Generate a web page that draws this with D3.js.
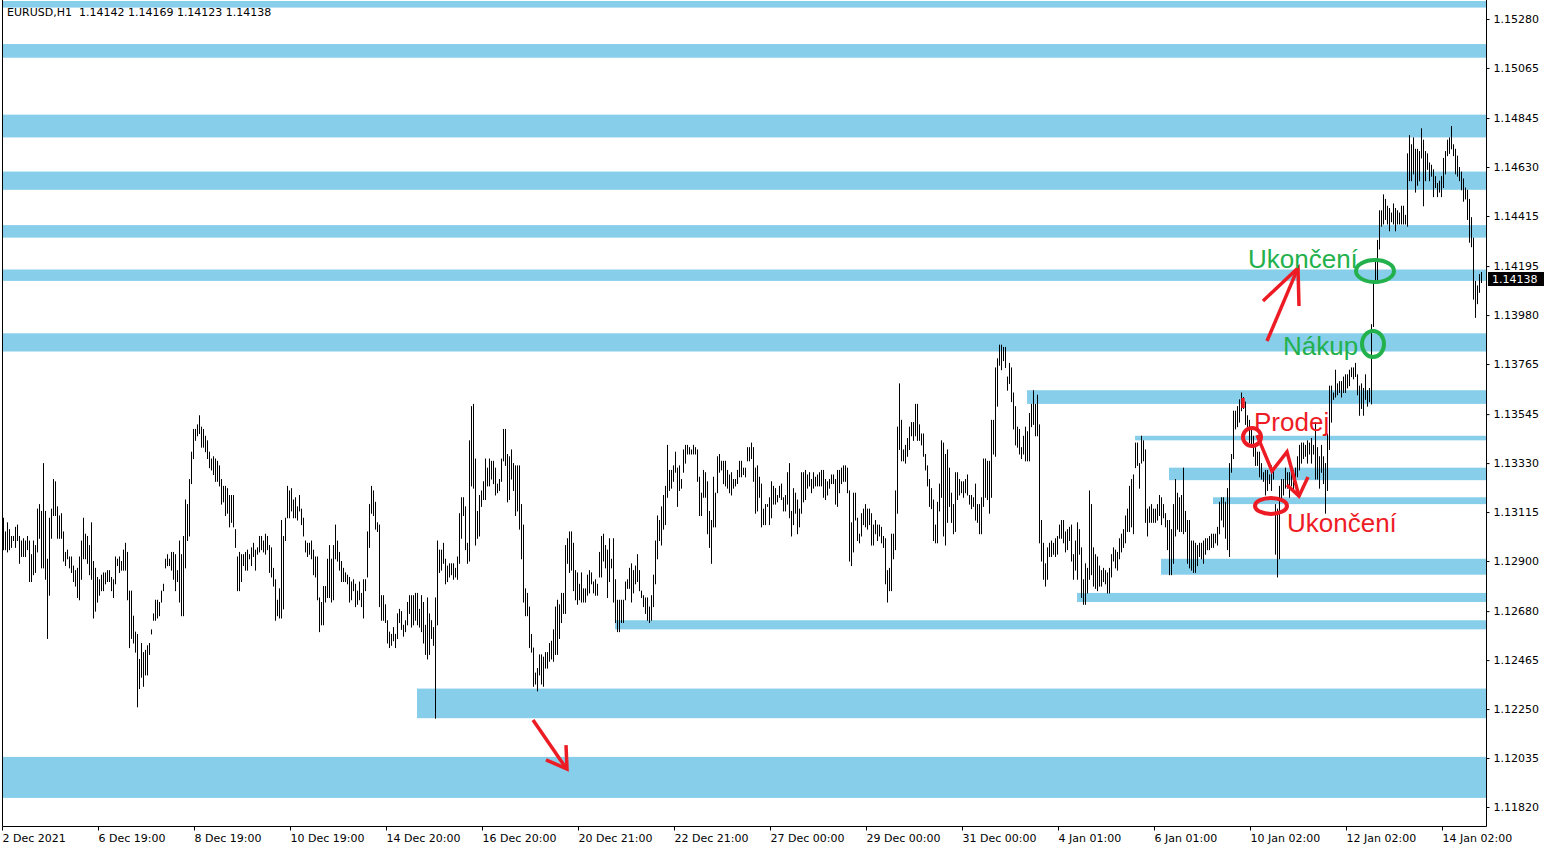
<!DOCTYPE html>
<html><head><meta charset="utf-8">
<script src="https://cdn.jsdelivr.net/npm/d3@7"></script>
<style>body{margin:0;background:#fff}svg{display:block}</style>
</head><body>
<svg id="c" width="1550" height="850"></svg>
<script>
// ---- bar data: [high, low] per H1 bar ----
const seg1 = [[1.1309,1.1295],[1.1303,1.1295],[1.1307,1.1294],[1.1304,1.1295],[1.1301,1.1296],[1.1301,1.1299],[1.1305,1.1296],[1.1306,1.1299],[1.1301,1.1289],[1.1299,1.1292],[1.1300,1.1292],[1.1299,1.1292],[1.1301,1.1295],[1.1299,1.1281],[1.1293,1.1281],[1.1299,1.1284],[1.1297,1.1285],[1.1313,1.1294],[1.1315,1.1300],[1.1312,1.1287],[1.1333,1.1287],[1.1312,1.1282],[1.1291,1.1256],
[1.1309,1.1275],[1.1313,1.1300],[1.1326,1.1310],[1.1325,1.1310],[1.1314,1.1300],[1.1310,1.1300],[1.1311,1.1300],[1.1303,1.1290],[1.1294,1.1288],[1.1295,1.1291],[1.1292,1.1287],[1.1292,1.1285],[1.1288,1.1281],[1.1286,1.1279],[1.1287,1.1274],[1.1292,1.1273],[1.1299,1.1282],[1.1309,1.1291],[1.1302,1.1291],[1.1301,1.1289],[1.1297,1.1284],[1.1307,1.1282],[1.1290,1.1265],[1.1287,1.1268],[1.1283,1.1272],[1.1282,1.1275],[1.1284,1.1277],[1.1285,1.1277],[1.1285,1.1280],[1.1286,1.1281],[1.1286,1.1281],[1.1283,1.1277],[1.1282,1.1274],[1.1292,1.1280],[1.1291,1.1288],[1.1292,1.1285],[1.1290,1.1286],[1.1295,1.1286],[1.1298,1.1286],[1.1294,1.1273],[1.1277,1.1252],[1.1277,1.1256],[1.1266,1.1254],[1.1259,1.1250],[1.1258,1.1226],[1.1247,1.1234],[1.1254,1.1239],[1.1250,1.1235],[1.1251,1.1240],[1.1253,1.1240],[1.1254,1.1249],[1.1260,1.1258],[1.1267,1.1264],[1.1273,1.1264],[1.1273,1.1265],[1.1272,1.1266],[1.1277,1.1272],[1.1280,1.1277],[1.1291,1.1287],[1.1293,1.1288],[1.1291,1.1288],[1.1294,1.1286],[1.1294,1.1282],[1.1293,1.1277],[1.1286,1.1281],[1.1299,1.1272],[1.1293,1.1266],[1.1301,1.1266],[1.1317,1.1287],[1.1315,1.1299],[1.1326,1.1301],[1.1338,1.1324],[1.1348,1.1335],[1.1348,1.1343],[1.1350,1.1345],[1.1354,1.1346],[1.1349,1.1340],[1.1348,1.1340],[1.1345,1.1338],[1.1343,1.1335],[1.1338,1.1331],[1.1335,1.1330],[1.1336,1.1328],[1.1335,1.1325],[1.1334,1.1325],[1.1332,1.1323],[1.1326,1.1315],[1.1323,1.1316],[1.1323,1.1310],[1.1322,1.1311],[1.1319,1.1305],[1.1319,1.1307],[1.1319,1.1305],[1.1304,1.1296],[1.1292,1.1277],[1.1294,1.1277],[1.1293,1.1281],[1.1293,1.1288],[1.1294,1.1286],[1.1295,1.1286],[1.1293,1.1291],[1.1296,1.1288],[1.1298,1.1292],[1.1295,1.1286],[1.1296,1.1293],[1.1301,1.1294],[1.1301,1.1295],[1.1299,1.1294],[1.1302,1.1293],[1.1301,1.1295],[1.1297,1.1285],[1.1296,1.1283],[1.1287,1.1279],[1.1282,1.1264],[1.1273,1.1266],[1.1278,1.1265],[1.1308,1.1265],[1.1301,1.1269],[1.1309,1.1299],[1.1323,1.1309],[1.1321,1.1309],[1.1322,1.1312],[1.1317,1.1309],[1.1318,1.1309],[1.1314,1.1308],[1.1319,1.1312],[1.1313,1.1306],[1.1309,1.1301],[1.1299,1.1294],[1.1298,1.1292],[1.1298,1.1293],[1.1299,1.1291],[1.1295,1.1284],[1.1292,1.1283],[1.1292,1.1273],[1.1274,1.1259],[1.1272,1.1262],[1.1279,1.1262],[1.1279,1.1272],[1.1291,1.1274],[1.1297,1.1274],[1.1291,1.1272],[1.1297,1.1273],[1.1306,1.1291],[1.1299,1.1290],[1.1294,1.1286],[1.1290,1.1281],[1.1287,1.1281],[1.1285,1.1281],[1.1284,1.1280],[1.1283,1.1272],[1.1281,1.1273],[1.1282,1.1277],[1.1280,1.1270],[1.1277,1.1271],[1.1281,1.1273],[1.1276,1.1270],[1.1282,1.1265],[1.1282,1.1277],[1.1303,1.1283],[1.1315,1.1296],[1.1323,1.1311],[1.1321,1.1310],[1.1316,1.1304],[1.1307,1.1303],[1.1306,1.1270]];
const seg2 = [[1.1275,1.1264],[1.1275,1.1264],[1.1271,1.1263],[1.1264,1.1254],[1.1259,1.1252],[1.1258,1.1253],[1.1261,1.1255],[1.1258,1.1252],[1.1267,1.1256],[1.1269,1.1263],[1.1268,1.1260],[1.1262,1.1257],[1.1264,1.1259],[1.1272,1.1262],[1.1275,1.1267],[1.1275,1.1261],[1.1275,1.1262],[1.1276,1.1264],[1.1276,1.1262],[1.1269,1.1261],[1.1275,1.1259],[1.1272,1.1254],[1.1262,1.1249],[1.1274,1.1247],[1.1267,1.1249],[1.1264,1.1256],[1.1261,1.1253],[1.1274,1.1221],[1.1299,1.1262],[1.1295,1.1285],[1.1295,1.1286],[1.1298,1.1289],[1.1291,1.1280],[1.1288,1.1281],[1.1289,1.1283],[1.1289,1.1284],[1.1289,1.1282],[1.1287,1.1283],[1.1292,1.1282],[1.1311,1.1289],[1.1318,1.1300],[1.1318,1.1310],[1.1314,1.1295],[1.1298,1.1289],[1.1343,1.1290],[1.1358,1.1323],[1.1359,1.1322],[1.1335,1.1297],[1.1312,1.1300],[1.1319,1.1301],[1.1321,1.1314],[1.1325,1.1317],[1.1335,1.1317],[1.1331,1.1323],[1.1335,1.1323],[1.1334,1.1326],[1.1334,1.1324],[1.1331,1.1319],[1.1324,1.1320],[1.1326,1.1321],[1.1335,1.1325],[1.1348,1.1334],[1.1348,1.1332],[1.1337,1.1316],[1.1336,1.1317],[1.1339,1.1326],[1.1333,1.1321],[1.1332,1.1310],[1.1332,1.1312],[1.1332,1.1304],[1.1315,1.1291],[1.1306,1.1272],[1.1278,1.1266],[1.1276,1.1266],[1.1270,1.1252],[1.1258,1.1250],[1.1252,1.1235],[1.1241,1.1236],[1.1243,1.1233],[1.1249,1.1240],[1.1249,1.1236],[1.1248,1.1235],[1.1250,1.1243],[1.1250,1.1243],[1.1254,1.1246],[1.1255,1.1247],[1.1260,1.1246],[1.1270,1.1249],[1.1273,1.1249],[1.1271,1.1256],[1.1276,1.1263],[1.1276,1.1267],[1.1297,1.1267],[1.1300,1.1289],[1.1303,1.1285],[1.1303,1.1286],[1.1298,1.1277],[1.1286,1.1273],[1.1285,1.1271],[1.1280,1.1273],[1.1285,1.1272],[1.1278,1.1272],[1.1278,1.1272],[1.1284,1.1275],[1.1286,1.1276],[1.1285,1.1280],[1.1281,1.1276],[1.1282,1.1275],[1.1280,1.1275],[1.1294,1.1283],[1.1301,1.1283],[1.1302,1.1290],[1.1297,1.1287],[1.1295,1.1274],[1.1300,1.1281],[1.1291,1.1287],[1.1300,1.1272],[1.1282,1.1263],[1.1273,1.1259],[1.1273,1.1259],[1.1273,1.1263],[1.1273,1.1263],[1.1281,1.1273],[1.1282,1.1278],[1.1287,1.1278],[1.1289,1.1272],[1.1286,1.1276],[1.1288,1.1280],[1.1293,1.1281],[1.1286,1.1277],[1.1277,1.1274],[1.1275,1.1270],[1.1274,1.1267],[1.1274,1.1264],[1.1270,1.1263],[1.1275,1.1264],[1.1284,1.1270],[1.1299,1.1280],[1.1310,1.1291],[1.1308,1.1299],[1.1314,1.1297],[1.1319,1.1304],[1.1323,1.1306],[1.1341,1.1318],[1.1330,1.1321],[1.1330,1.1322],[1.1332,1.1325],[1.1338,1.1329],[1.1331,1.1314],[1.1332,1.1321],[1.1326,1.1322],[1.1339,1.1329],[1.1341,1.1333],[1.1341,1.1337],[1.1340,1.1337],[1.1339,1.1337],[1.1341,1.1337],[1.1340,1.1337],[1.1339,1.1325],[1.1327,1.1310],[1.1320,1.1310],[1.1330,1.1318],[1.1329,1.1318],[1.1325,1.1302],[1.1312,1.1296],[1.1308,1.1289],[1.1327,1.1305],[1.1320,1.1305],[1.1336,1.1320],[1.1337,1.1329],[1.1334,1.1330],[1.1334,1.1324],[1.1334,1.1323],[1.1330,1.1322],[1.1328,1.1320],[1.1329,1.1319],[1.1326,1.1322],[1.1326,1.1323],[1.1330,1.1324],[1.1334,1.1327],[1.1334,1.1327],[1.1331,1.1328],[1.1331,1.1327],[1.1340,1.1334],[1.1340,1.1334]];
const seg3 = [[1.1342,1.1335],[1.1340,1.1325],[1.1331,1.1311],[1.1332,1.1312],[1.1327,1.1318],[1.1324,1.1305],[1.1313,1.1306],[1.1315,1.1306],[1.1315,1.1314],[1.1318,1.1306],[1.1325,1.1309],[1.1323,1.1315],[1.1322,1.1315],[1.1319,1.1316],[1.1323,1.1318],[1.1324,1.1317],[1.1318,1.1312],[1.1319,1.1312],[1.1329,1.1315],[1.1333,1.1309],[1.1312,1.1301],[1.1322,1.1306],[1.1320,1.1311],[1.1317,1.1302],[1.1313,1.1305],[1.1329,1.1311],[1.1329,1.1316],[1.1330,1.1317],[1.1328,1.1322],[1.1329,1.1323],[1.1326,1.1320],[1.1329,1.1322],[1.1327,1.1323],[1.1328,1.1323],[1.1329,1.1323],[1.1330,1.1323],[1.1330,1.1318],[1.1326,1.1317],[1.1325,1.1319],[1.1326,1.1322],[1.1328,1.1324],[1.1328,1.1324],[1.1326,1.1315],[1.1330,1.1314],[1.1330,1.1320],[1.1331,1.1324],[1.1332,1.1325],[1.1332,1.1325],[1.1331,1.1320],[1.1321,1.1290],[1.1307,1.1288],[1.1320,1.1294],[1.1320,1.1308],[1.1309,1.1299],[1.1302,1.1298],[1.1311,1.1301],[1.1313,1.1306],[1.1315,1.1305],[1.1313,1.1304],[1.1313,1.1306],[1.1311,1.1297],[1.1306,1.1297],[1.1308,1.1302],[1.1306,1.1299],[1.1306,1.1301],[1.1305,1.1298],[1.1301,1.1296],[1.1300,1.1280],[1.1286,1.1272],[1.1287,1.1277],[1.1302,1.1277],[1.1302,1.1291],[1.1321,1.1295],[1.1349,1.1311],[1.1368,1.1339],[1.1352,1.1334],[1.1339,1.1334],[1.1341,1.1333],[1.1344,1.1336],[1.1349,1.1339],[1.1351,1.1345],[1.1351,1.1343],[1.1359,1.1345],[1.1359,1.1343],[1.1350,1.1343],[1.1346,1.1341],[1.1346,1.1336],[1.1337,1.1330],[1.1332,1.1323],[1.1326,1.1314],[1.1322,1.1313],[1.1317,1.1299],[1.1306,1.1298],[1.1316,1.1298],[1.1324,1.1312],[1.1343,1.1318],[1.1342,1.1301],[1.1337,1.1297],[1.1339,1.1307],[1.1331,1.1314],[1.1320,1.1307],[1.1315,1.1302],[1.1329,1.1303],[1.1329,1.1317],[1.1326,1.1319],[1.1325,1.1320],[1.1325,1.1318],[1.1326,1.1320],[1.1328,1.1319],[1.1319,1.1315],[1.1319,1.1313],[1.1318,1.1314],[1.1324,1.1308],[1.1315,1.1307],[1.1315,1.1302],[1.1318,1.1302],[1.1335,1.1314],[1.1335,1.1318],[1.1334,1.1317],[1.1334,1.1311],[1.1352,1.1318],[1.1352,1.1337],[1.1375,1.1336],[1.1379,1.1358],[1.1385,1.1376],[1.1385,1.1374],[1.1384,1.1378],[1.1384,1.1375],[1.1371,1.1365],[1.1377,1.1368],[1.1375,1.1360],[1.1364,1.1348],[1.1358,1.1341],[1.1349,1.1340],[1.1348,1.1337],[1.1340,1.1335],[1.1345,1.1337],[1.1349,1.1334],[1.1347,1.1334],[1.1355,1.1334],[1.1359,1.1349],[1.1365,1.1350],[1.1359,1.1345],[1.1363,1.1345],[1.1350,1.1298],[1.1308,1.1290],[1.1298,1.1282],[1.1289,1.1279],[1.1296,1.1282],[1.1298,1.1292],[1.1299,1.1292],[1.1298,1.1293],[1.1300,1.1292],[1.1301,1.1293],[1.1306,1.1300],[1.1308,1.1300],[1.1308,1.1298],[1.1303,1.1294],[1.1304,1.1295],[1.1305,1.1299],[1.1306,1.1290],[1.1293,1.1282],[1.1299,1.1286],[1.1307,1.1282],[1.1304,1.1293],[1.1296,1.1274],[1.1282,1.1271],[1.1289,1.1271],[1.1287,1.1276],[1.1321,1.1282],[1.1315,1.1284],[1.1296,1.1279],[1.1293,1.1278],[1.1292,1.1277],[1.1288,1.1279],[1.1286,1.1279],[1.1287,1.1281],[1.1286,1.1280],[1.1285,1.1276],[1.1287,1.1276],[1.1293,1.1283],[1.1296,1.1290],[1.1295,1.1287],[1.1294,1.1286],[1.1300,1.1291]];
const seg4 = [[1.1302,1.1294],[1.1304,1.1296],[1.1310,1.1298],[1.1313,1.1303],[1.1323,1.1303],[1.1326,1.1305],[1.1328,1.1302],[1.1342,1.1331],[1.1342,1.1332],[1.1333,1.1322],[1.1345,1.1333],[1.1343,1.1334],[1.1339,1.1307],[1.1313,1.1301],[1.1314,1.1307],[1.1315,1.1307],[1.1313,1.1307],[1.1313,1.1307],[1.1315,1.1308],[1.1319,1.1310],[1.1318,1.1306],[1.1315,1.1309],[1.1311,1.1305],[1.1308,1.1295],[1.1308,1.1284],[1.1304,1.1284],[1.1315,1.1289],[1.1326,1.1301],[1.1320,1.1304],[1.1318,1.1303],[1.1319,1.1303],[1.1331,1.1302],[1.1312,1.1303],[1.1308,1.1289],[1.1308,1.1287],[1.1299,1.1286],[1.1299,1.1285],[1.1298,1.1285],[1.1297,1.1288],[1.1298,1.1292],[1.1298,1.1291],[1.1299,1.1289],[1.1300,1.1293],[1.1300,1.1295],[1.1301,1.1295],[1.1302,1.1296],[1.1302,1.1296],[1.1302,1.1298],[1.1305,1.1297],[1.1316,1.1302],[1.1318,1.1308],[1.1318,1.1305],[1.1316,1.1300],[1.1322,1.1295],[1.1333,1.1292],[1.1337,1.1329],[1.1356,1.1335],[1.1356,1.1348],[1.1358,1.1349],[1.1361,1.1351],[1.1364,1.1356],[1.1362,1.1357],[1.1360,1.1350],[1.1354,1.1348],[1.1352,1.1342],[1.1349,1.1340],[1.1345,1.1336],[1.1340,1.1332],[1.1338,1.1332],[1.1338,1.1327],[1.1333,1.1326],[1.1329,1.1325],[1.1330,1.1319],[1.1330,1.1321],[1.1328,1.1324],[1.1332,1.1321],[1.1330,1.1326],[1.1315,1.1293],[1.1313,1.1283],[1.1323,1.1291],[1.1326,1.1317],[1.1326,1.1319],[1.1331,1.1322],[1.1329,1.1322],[1.1329,1.1318],[1.1330,1.1323],[1.1330,1.1321],[1.1331,1.1326],[1.1336,1.1327],[1.1341,1.1330],[1.1342,1.1333],[1.1342,1.1335],[1.1341,1.1336],[1.1343,1.1333],[1.1342,1.1337],[1.1344,1.1333],[1.1341,1.1337],[1.1351,1.1326],[1.1340,1.1326],[1.1336,1.1322],[1.1341,1.1329],[1.1336,1.1324],[1.1333,1.1311],[1.1346,1.1321],[1.1367,1.1339],[1.1367,1.1351],[1.1364,1.1361],[1.1374,1.1362],[1.1368,1.1363],[1.1369,1.1364],[1.1369,1.1362],[1.1371,1.1364],[1.1372,1.1364],[1.1372,1.1366],[1.1374,1.1367],[1.1375,1.1371],[1.1375,1.1370],[1.1377,1.1371],[1.1372,1.1363],[1.1367,1.1354],[1.1368,1.1357],[1.1366,1.1354],[1.1372,1.1361],[1.1365,1.1358],[1.1366,1.1360],[1.1394,1.1359],[1.1413,1.1393],[1.1422,1.1412],[1.1431,1.1412],[1.1444,1.1427],[1.1444,1.1437],[1.1451,1.1438],[1.1449,1.1440],[1.1446,1.1438],[1.1445,1.1435],[1.1443,1.1439],[1.1447,1.1438],[1.1445,1.1435],[1.1444,1.1438],[1.1443,1.1438],[1.1446,1.1438],[1.1446,1.1438],[1.1442,1.1438],[1.1469,1.1437],[1.1477,1.1457],[1.1473,1.1457],[1.1476,1.1460],[1.1471,1.1452],[1.1471,1.1455],[1.1470,1.1457],[1.1480,1.1467],[1.1475,1.1446],[1.1470,1.1457],[1.1469,1.1462],[1.1465,1.1457],[1.1464,1.1459],[1.1462,1.1450],[1.1459,1.1454],[1.1456,1.1450],[1.1457,1.1452],[1.1459,1.1450],[1.1467,1.1454],[1.1470,1.1460],[1.1475,1.1468],[1.1476,1.1469],[1.1481,1.1471],[1.1473,1.1468],[1.1471,1.1460],[1.1468,1.1459],[1.1463,1.1457],[1.1461,1.1453],[1.1458,1.1448],[1.1454,1.1449],[1.1453,1.1440],[1.1449,1.1430],[1.1441,1.1428],[1.1432,1.1405],[1.1413,1.1397],[1.1411,1.1403],[1.1416,1.1408],[1.14169,1.14123]];
const bars = seg1.concat(seg2, seg3, seg4);

// ---- axes ----
const priceTicks = [1.15280,1.15065,1.14845,1.14630,1.14415,1.14195,1.13980,1.13765,1.13545,1.13330,1.13115,1.12900,1.12680,1.12465,1.12250,1.12035,1.11820];
const timeLabels = ["2 Dec 2021","6 Dec 19:00","8 Dec 19:00","10 Dec 19:00","14 Dec 20:00","16 Dec 20:00","20 Dec 21:00","22 Dec 21:00","27 Dec 00:00","29 Dec 00:00","31 Dec 00:00","4 Jan 01:00","6 Jan 01:00","10 Jan 02:00","12 Jan 02:00","14 Jan 02:00"];
const timeTickIdx = [0,48,96,144,192,240,288,336,384,432,480,528,576,624,672,720];
const lastQuote = {open:1.14142, high:1.14169, low:1.14123, close:1.14138};

// ---- support / resistance zones ----
const zoneHigh  = [1.1536,1.1517,1.1486,1.1461,1.14375,1.1418,1.1390,1.1365,1.1345,1.1331,1.1318,1.1291,1.1276,1.1264,1.1234,1.1204];
const zoneLow   = [1.1533,1.1511,1.1476,1.1453,1.1432,1.1413,1.1382,1.1359,1.1343,1.13255,1.1315,1.1284,1.1272,1.1260,1.1221,1.1186];
const zoneStart = [0,0,0,0,0,0,0,512,566,583,605,579,537,306,207,0];

// ---- annotations (bar index, price) ----
const GREEN = "#22b14c", RED = "#ed1c24";
const annoTexts = [
  {t:"Ukončení", i:622.5, p:1.14187, c:GREEN},
  {t:"Nákup",   i:640,   p:1.13805, c:GREEN},
  {t:"Prodej",  i:625.5, p:1.13471, c:RED},
  {t:"Ukončení", i:642,  p:1.13027, c:RED}
];
const annoEllipses = [
  {i:686, p:1.14173, rx:19, ry:11, c:GREEN},
  {i:685, p:1.13853, rx:11, ry:13, c:GREEN},
  {i:624.5, p:1.13445, rx:9, ry:9, c:RED},
  {i:634, p:1.13142, rx:16, ry:8, c:RED}
];
const annoPaths = [
  [[632,1.13866],[647.5,1.14187]],
  [[630,1.14042],[647.5,1.14187],[648,1.14020]],
  [[265,1.12202],[281.5,1.11991]],
  [[281.5,1.12092],[282,1.11987],[271.5,1.12027]],
  [[627,1.13453],[634.5,1.13295],[642,1.13379],[648,1.13185]],
  [[642,1.13234],[648,1.13185],[652.5,1.13269]],
  [[620,1.13616],[620,1.13572]]
];

// ---- drawing ----
const W = 1550, H = 850, L = 2, R = 1486, T = 0, B = 826;
const svg = d3.select("#c");
const x = d3.scaleLinear().domain([0, bars.length - 1]).range([3, 3 + 2 * (bars.length - 1)]);
const y = d3.scaleLinear().domain([1.11820, 1.15280]).range([807, 19]);
const FONT = "'DejaVu Sans', Tahoma, sans-serif";

svg.append("rect").attr("width", W).attr("height", H).attr("fill", "#fff");

// zones
svg.append("g").selectAll("rect").data(zoneHigh).join("rect")
  .attr("x", (d, k) => x(zoneStart[k]))
  .attr("y", d => Math.max(T + 1, y(d)))
  .attr("width", (d, k) => R - x(zoneStart[k]))
  .attr("height", (d, k) => y(zoneLow[k]) - Math.max(T + 1, y(d)))
  .attr("fill", "#87ceeb");

// bars
svg.append("g").selectAll("line").data(bars).join("line")
  .attr("x1", (d, i) => Math.round(x(i)) + 0.5)
  .attr("x2", (d, i) => Math.round(x(i)) + 0.5)
  .attr("y1", d => y(d[0]))
  .attr("y2", d => y(d[1]) + 0.5)
  .attr("stroke", "#000").attr("stroke-width", 1);

// frame
svg.append("path")
  .attr("d", `M${L + 0.5},${T}V${B + 0.5}H${R + 0.5}V${T}`)
  .attr("fill", "none").attr("stroke", "#000").attr("stroke-width", 1);

// price axis
const yAxis = d3.axisRight(y).tickValues(priceTicks).tickFormat(d3.format(".5f")).tickSize(3).tickPadding(4);
svg.append("g").attr("transform", `translate(${R + 0.5},0)`).call(yAxis)
  .call(g => g.select(".domain").remove())
  .call(g => g.selectAll("text").attr("font-family", FONT).attr("font-size", 11).attr("fill", "#000"))
  .call(g => g.selectAll("line").attr("stroke", "#000"));

// time axis
const xAxis = d3.axisBottom(x).tickValues(timeTickIdx).tickFormat((d, k) => timeLabels[k]).tickSize(4).tickPadding(4);
svg.append("g").attr("transform", `translate(-1,${B + 0.5})`).call(xAxis)
  .call(g => g.select(".domain").remove())
  .call(g => g.selectAll("text").attr("font-family", FONT).attr("font-size", 11).attr("fill", "#000").attr("text-anchor", "start"))
  .call(g => g.selectAll("line").attr("stroke", "#000"));

// current price label
const cy = y(lastQuote.close);
svg.append("rect").attr("x", R + 2).attr("y", Math.round(cy) - 7).attr("width", 56).attr("height", 14).attr("fill", "#000");
svg.append("text").attr("x", R + 6).attr("y", cy).attr("dy", "0.35em")
  .attr("font-family", FONT).attr("font-size", 11).attr("fill", "#fff")
  .text(d3.format(".5f")(lastQuote.close));

// header
svg.append("text").attr("x", 7).attr("y", 16).attr("font-family", FONT).attr("font-size", 11).attr("fill", "#000")
  .attr("xml:space", "preserve")
  .text(`EURUSD,H1  ${[lastQuote.open, lastQuote.high, lastQuote.low, lastQuote.close].map(d3.format(".5f")).join(" ")}`);

// annotations
const line = d3.line().x(d => x(d[0])).y(d => y(d[1]));
svg.append("g").selectAll("path").data(annoPaths).join("path")
  .attr("d", line).attr("fill", "none").attr("stroke", RED)
  .attr("stroke-width", 3.5).attr("stroke-linecap", "butt").attr("stroke-linejoin", "miter");
svg.append("g").selectAll("ellipse").data(annoEllipses).join("ellipse")
  .attr("cx", d => x(d.i)).attr("cy", d => y(d.p)).attr("rx", d => d.rx).attr("ry", d => d.ry)
  .attr("fill", "none").attr("stroke", d => d.c).attr("stroke-width", 4);
svg.append("g").selectAll("text").data(annoTexts).join("text")
  .attr("x", d => x(d.i)).attr("y", d => y(d.p))
  .attr("font-family", "'Liberation Sans', Arial, sans-serif").attr("font-size", 26)
  .attr("fill", d => d.c).text(d => d.t);
</script>
</body></html>
